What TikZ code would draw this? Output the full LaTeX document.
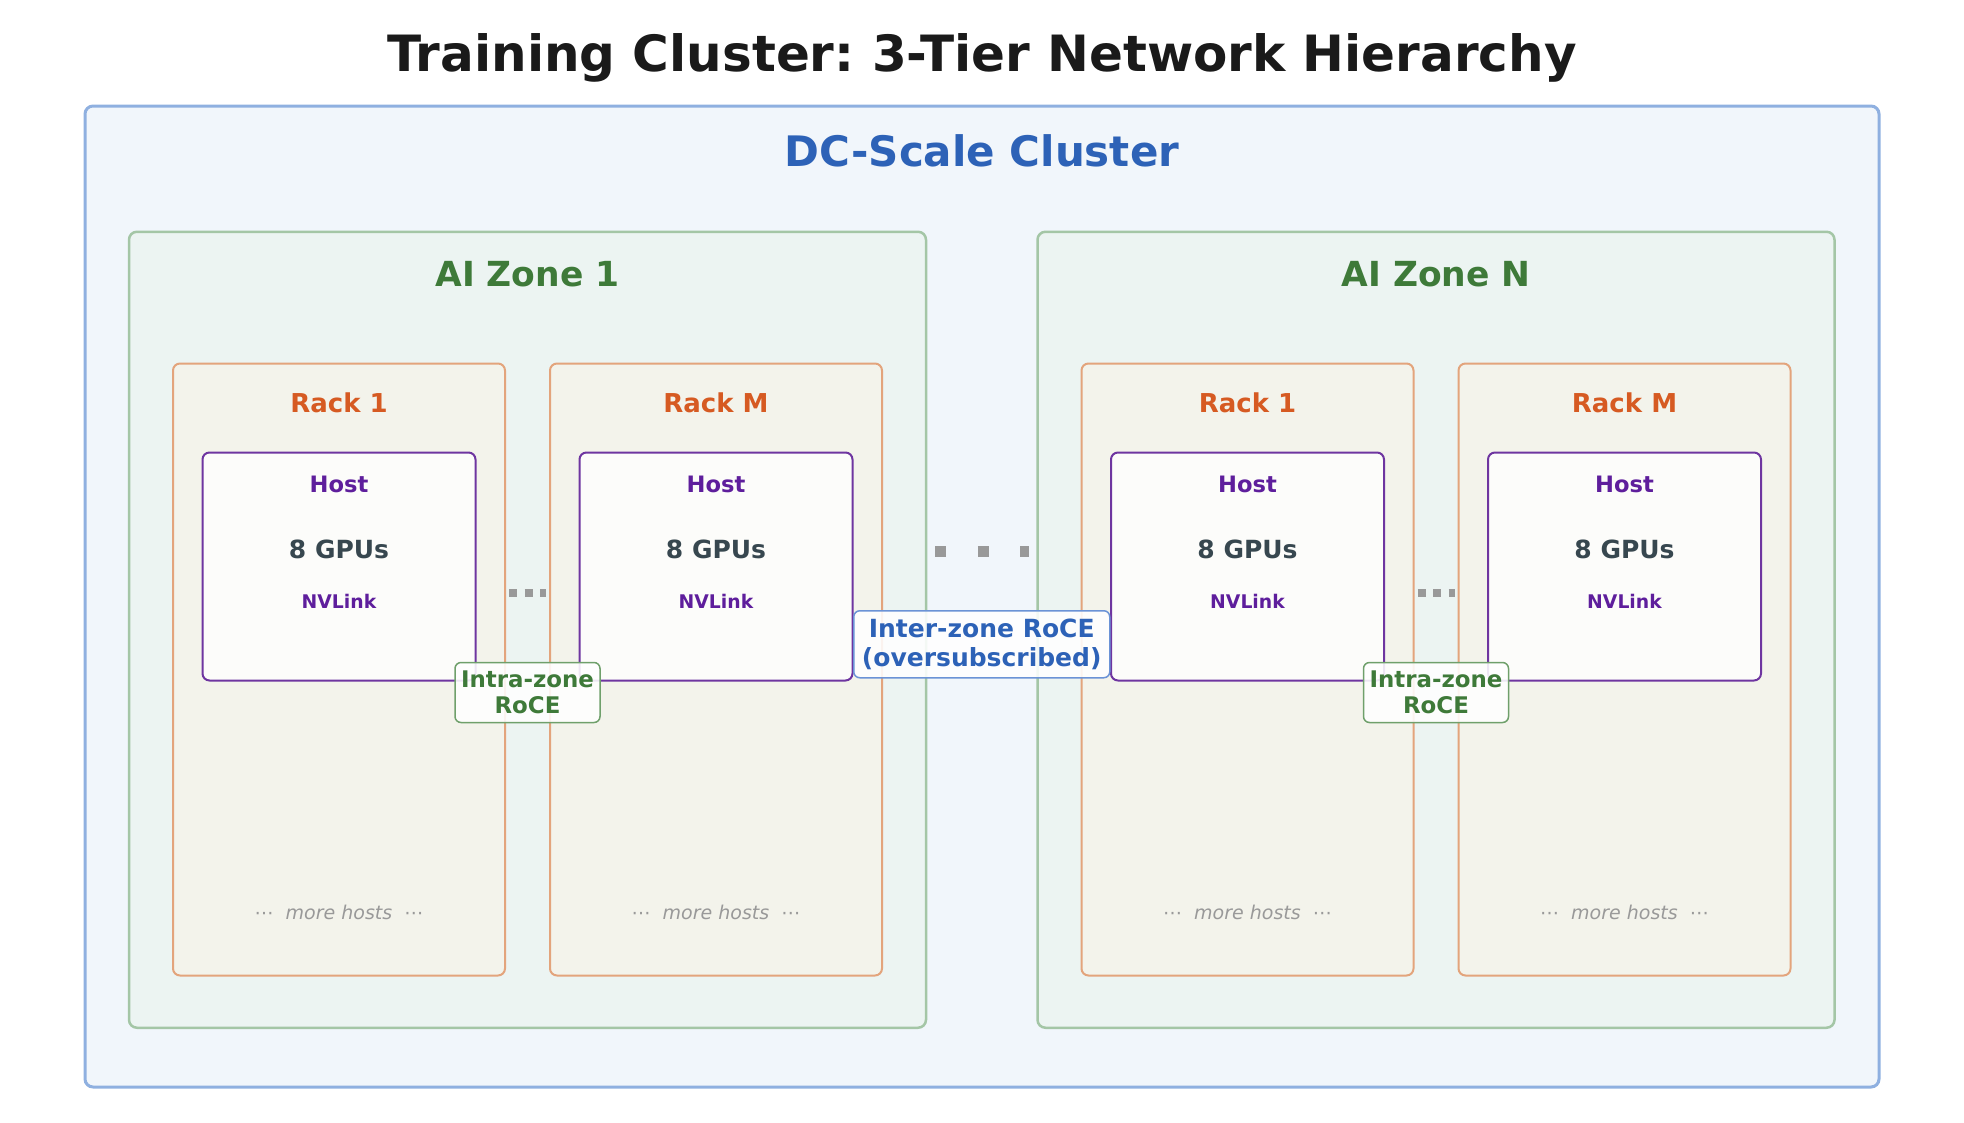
\documentclass[tikz,border=0pt]{standalone}
\usepackage{fontspec}
\setmainfont{DejaVu Sans}
\frenchspacing
\usetikzlibrary{positioning,calc}
\definecolor{TitleInk}{RGB}{26,26,26}
\definecolor{ClusterBlue}{RGB}{45,98,183}
\definecolor{ClusterEdge}{RGB}{143,176,224}
\definecolor{ClusterBand}{RGB}{241,246,251}
\definecolor{InterEdge}{RGB}{107,147,214}
\definecolor{ZoneGreen}{RGB}{62,122,57}
\definecolor{ZoneEdge}{RGB}{164,198,166}
\definecolor{ZoneBand}{RGB}{236,244,242}
\definecolor{IntraEdge}{RGB}{111,160,107}
\definecolor{RackOrange}{RGB}{214,90,34}
\definecolor{RackEdge}{RGB}{227,164,124}
\definecolor{RackBand}{RGB}{243,243,235}
\definecolor{HostPurple}{RGB}{94,30,156}
\definecolor{HostEdge}{RGB}{110,53,160}
\definecolor{HostBand}{RGB}{252,252,250}
\definecolor{GpuSlate}{RGB}{55,71,79}
\definecolor{DotGray}{RGB}{153,153,153}
\tikzset{
  clusterbox/.style={draw=ClusterEdge,fill=ClusterBand,line width=3pt,rounded corners=8pt,
    inner sep=0pt,minimum width=1794pt,minimum height=981pt},
  zonebox/.style={draw=ZoneEdge,fill=ZoneBand,line width=2.5pt,rounded corners=8pt,
    inner sep=0pt,minimum width=797pt,minimum height=796pt},
  rackbox/.style={draw=RackEdge,fill=RackBand,line width=2pt,rounded corners=7pt,
    inner sep=0pt,minimum width=332pt,minimum height=612pt},
  hostbox/.style={draw=HostEdge,fill=HostBand,line width=2pt,rounded corners=7pt,
    inner sep=0pt,minimum width=273pt,minimum height=228pt},
  maintitle/.style={font=\fontsize{50}{60}\selectfont\bfseries,text=TitleInk,anchor=base},
  clustertitle/.style={font=\fontsize{42}{50}\selectfont\bfseries,text=ClusterBlue},
  zonetitle/.style={font=\fontsize{34.5}{41}\selectfont\bfseries,text=ZoneGreen},
  racktitle/.style={font=\fontsize{26}{31}\selectfont\bfseries,text=RackOrange},
  hosttitle/.style={font=\fontsize{22.6}{27}\selectfont\bfseries,text=HostPurple},
  gpulabel/.style={font=\fontsize{25}{30}\selectfont\bfseries,text=GpuSlate},
  linklabel/.style={font=\fontsize{18.8}{22}\selectfont\bfseries,text=HostPurple},
  morehosts/.style={font=\fontsize{19}{23}\selectfont\itshape,text=DotGray},
  intralabel/.style={draw=IntraEdge,fill=white,fill opacity=0.88,text opacity=1,line width=1.5pt,
    rounded corners=6pt,align=center,inner sep=5pt,minimum width=145pt,minimum height=60pt,
    font=\fontsize{22.9}{25.5}\selectfont\bfseries,text=ZoneGreen},
  interlabel/.style={draw=InterEdge,fill=white,fill opacity=0.88,text opacity=1,line width=1.5pt,
    rounded corners=6pt,align=center,inner sep=5pt,minimum width=256pt,minimum height=67pt,
    font=\fontsize{25}{28.5}\selectfont\bfseries,text=ClusterBlue},
  hostdots/.style={draw=DotGray,line width=8pt,dash pattern=on 8pt off 7.5pt,
    shorten <=3pt,shorten >=3pt},
  zonedots/.style={draw=DotGray,line width=11pt,dash pattern=on 11pt off 31.5pt,
    shorten <=8pt,shorten >=7pt}
}
\begin{document}
\begin{tikzpicture}[x=1pt,y=-1pt]
  \useasboundingbox (0,0) rectangle (1964,1122);
  \node[maintitle] (title) at (982,71) {Training Cluster: 3-Tier Network Hierarchy};
  \node[clusterbox] (cluster) at (982,596.5) {};
  \node[clustertitle,below=62pt of cluster.north,anchor=base] (clustername) {DC-Scale Cluster};
  % zones
  \node[zonebox,below=126pt of cluster.north,xshift=-454.5pt] (zoneA) {};
  \node[zonebox,below=126pt of cluster.north,xshift=454pt] (zoneN) {};
  \node[zonetitle,below=55.5pt of zoneA.north,anchor=base] (zoneAname) {AI Zone 1};
  \node[zonetitle,below=55.5pt of zoneN.north,anchor=base] (zoneNname) {AI Zone N};
  % racks
  \node[rackbox,below=132pt of zoneA.north,xshift=-188.5pt] (rackA1) {};
  \node[rackbox,below=132pt of zoneA.north,xshift=188.5pt] (rackAM) {};
  \node[rackbox,below=132pt of zoneN.north,xshift=-188.5pt] (rackN1) {};
  \node[rackbox,below=132pt of zoneN.north,xshift=188.5pt] (rackNM) {};
  \node[racktitle,below=49.5pt of rackA1.north,anchor=base] (rackA1name) {Rack 1};
  \node[racktitle,below=49.5pt of rackAM.north,anchor=base] (rackAMname) {Rack M};
  \node[racktitle,below=49.5pt of rackN1.north,anchor=base] (rackN1name) {Rack 1};
  \node[racktitle,below=49.5pt of rackNM.north,anchor=base] (rackNMname) {Rack M};
  \node[morehosts,above=57pt of rackA1.south,anchor=base] (moreA1) {⋯~~more hosts~~⋯};
  \node[morehosts,above=57pt of rackAM.south,anchor=base] (moreAM) {⋯~~more hosts~~⋯};
  \node[morehosts,above=57pt of rackN1.south,anchor=base] (moreN1) {⋯~~more hosts~~⋯};
  \node[morehosts,above=57pt of rackNM.south,anchor=base] (moreNM) {⋯~~more hosts~~⋯};
  % hosts
  \node[hostbox,below=89pt of rackA1.north] (hostA1) {};
  \node[hostbox,below=89pt of rackAM.north] (hostAM) {};
  \node[hostbox,below=89pt of rackN1.north] (hostN1) {};
  \node[hostbox,below=89pt of rackNM.north] (hostNM) {};
  \node[hosttitle,below=40.5pt of hostA1.north,anchor=base] (hostA1name) {Host};
  \node[gpulabel,below=107pt of hostA1.north,anchor=base] (gpuA1) {8 GPUs};
  \node[linklabel,below=157pt of hostA1.north,anchor=base] (linkA1) {NVLink};
  \node[hosttitle,below=40.5pt of hostAM.north,anchor=base] (hostAMname) {Host};
  \node[gpulabel,below=107pt of hostAM.north,anchor=base] (gpuAM) {8 GPUs};
  \node[linklabel,below=157pt of hostAM.north,anchor=base] (linkAM) {NVLink};
  \node[hosttitle,below=40.5pt of hostN1.north,anchor=base] (hostN1name) {Host};
  \node[gpulabel,below=107pt of hostN1.north,anchor=base] (gpuN1) {8 GPUs};
  \node[linklabel,below=157pt of hostN1.north,anchor=base] (linkN1) {NVLink};
  \node[hosttitle,below=40.5pt of hostNM.north,anchor=base] (hostNMname) {Host};
  \node[gpulabel,below=107pt of hostNM.north,anchor=base] (gpuNM) {8 GPUs};
  \node[linklabel,below=157pt of hostNM.north,anchor=base] (linkNM) {NVLink};
  % links
  \draw[hostdots] ([yshift=77pt]rackA1.east) -- ([yshift=77pt]rackAM.west);
  \draw[hostdots] ([yshift=77pt]rackN1.east) -- ([yshift=77pt]rackNM.west);
  \draw[zonedots] ([yshift=78.5pt]zoneA.east) -- ([yshift=78.5pt]zoneN.west);
  \node[intralabel] (roceA) at ($(rackA1.east)!.5!(rackAM.west)+(0,23)$) {Intra-zone\\RoCE};
  \node[intralabel] (roceN) at ($(rackN1.east)!.5!(rackNM.west)+(0,23)$) {Intra-zone\\RoCE};
  \node[interlabel] (roceX) at ($(zoneA.east)!.5!(zoneN.west)+(0,14.5)$) {Inter-zone RoCE\\(oversubscribed)};
\end{tikzpicture}
\end{document}
